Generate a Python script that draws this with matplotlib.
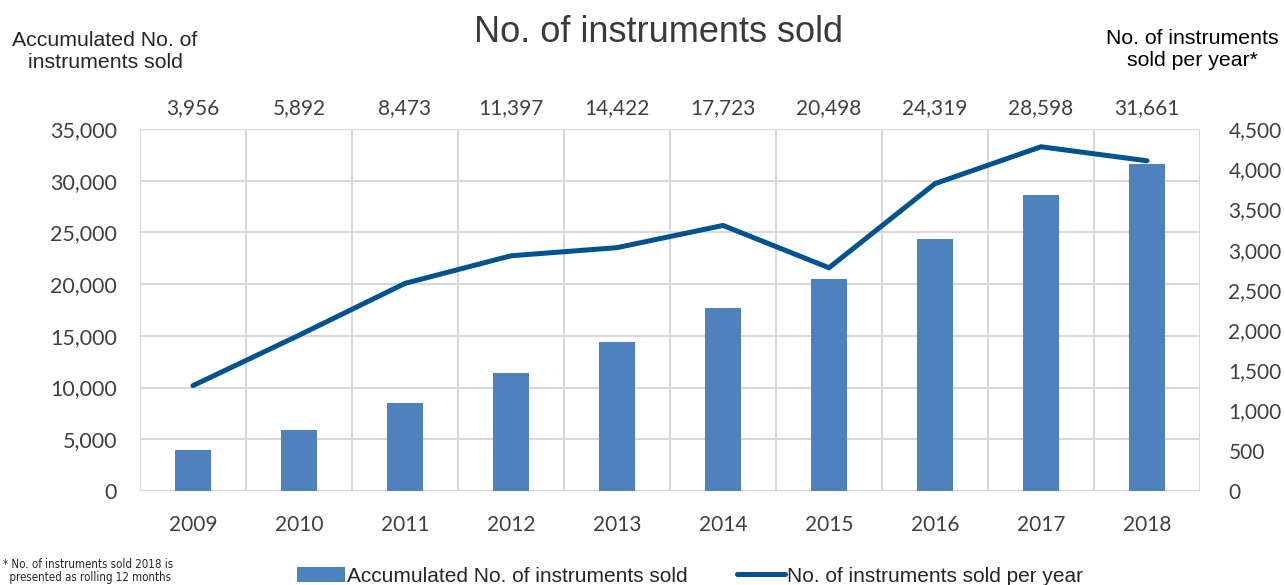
import matplotlib
matplotlib.use("Agg")
import matplotlib.pyplot as plt
import numpy as np
from matplotlib.lines import Line2D
from matplotlib.patches import Patch

years = ["2009", "2010", "2011", "2012", "2013", "2014", "2015", "2016", "2017", "2018"]
accumulated = [3956, 5892, 8473, 11397, 14422, 17723, 20498, 24319, 28598, 31661]
per_year = [1310, 1936, 2581, 2924, 3025, 3301, 2775, 3821, 4279, 4105]
left_ticks = [0, 5000, 10000, 15000, 20000, 25000, 30000, 35000]
right_ticks = [0, 500, 1000, 1500, 2000, 2500, 3000, 3500, 4000, 4500]

bar_color = "#4F81BD"
line_color = "#00538F"
grid_color = "#D9D9D9"
text_color = "#404040"
fs = 15

fig = plt.figure(figsize=(12.85, 5.85), dpi=100)
ax = fig.add_axes([140/1285, 1-491/585, 1060/1285, 362/585])
x = np.arange(len(years))

ax.bar(x, accumulated, width=0.34, color=bar_color, zorder=3)
ax.set_xlim(-0.5, len(years)-0.5)
ax.set_ylim(0, 35000)
ax.set_yticks(left_ticks)
ax.set_yticklabels([f"{v:,}" for v in left_ticks], fontfamily="Lato", fontsize=fs+0.5, color=text_color)
ax.set_xticks(x)
ax.set_xticklabels(years, fontfamily="Lato", fontsize=fs, color=text_color)
ax.set_xticks(np.arange(-0.5, len(years), 1), minor=True)
ax.tick_params(axis="both", which="both", length=0)
ax.tick_params(axis="y", pad=16.5)
ax.tick_params(axis="x", pad=17)
ax.grid(axis="y", which="major", color=grid_color, linewidth=1.5, zorder=0)
ax.grid(axis="x", which="minor", color=grid_color, linewidth=1.5, zorder=0)
for s in ax.spines.values():
    s.set_visible(False)

for xi, v in zip(x, accumulated):
    ax.annotate(f"{v:,}", xy=(xi, 35000), xytext=(0, 8), textcoords="offset points",
                ha="center", va="bottom", fontfamily="Lato", fontsize=fs, color=text_color,
                annotation_clip=False)

ax2 = ax.twinx()
ax2.plot(x, per_year, color=line_color, linewidth=3.6, solid_capstyle="round",
         solid_joinstyle="miter", zorder=4)
ax2.set_ylim(0, 4500)
ax2.set_yticks(right_ticks)
ax2.set_yticklabels([f"{v:,}" for v in right_ticks], fontfamily="Lato", fontsize=fs, color=text_color)
ax2.tick_params(axis="y", length=0, pad=20.5)
for s in ax2.spines.values():
    s.set_visible(False)

fig.text(658/1285, 1-32/585, "No. of instruments sold", ha="center", va="center",
         fontfamily="Liberation Sans", fontsize=26, color="#3a3a3a")
fig.text(105/1285, 1-51/585, "Accumulated No. of\ninstruments sold", ha="center", va="center",
         fontfamily="Liberation Sans", fontsize=15.3, color="#262626", linespacing=1.2)
fig.text(1192/1285, 1-50/585, "No. of instruments\nsold per year*", ha="center", va="center",
         fontfamily="Liberation Sans", fontsize=15.3, color="#000000", linespacing=1.2)
fig.text(3/1285, 1-571/585, "* No. of instruments sold 2018 is\n  presented as rolling 12 months", ha="left", va="center",
         fontfamily="DejaVu Sans", fontstretch="condensed", fontsize=8.3, color="#262626", linespacing=1.1)

handles = [Patch(facecolor=bar_color, edgecolor="none"),
           Line2D([0], [0], color=line_color, linewidth=3.6, solid_capstyle="round")]
labels = ["Accumulated No. of instruments sold", "No. of instruments sold per year"]
leg = fig.legend(handles, labels, loc="center", bbox_to_anchor=(690/1285, 1-576/585), ncol=2,
                 frameon=False, handlelength=2.3, handletextpad=0.1, columnspacing=2.4,
                 prop={"family": "Liberation Sans", "size": 15})
for t in leg.get_texts():
    t.set_color("#262626")

fig.savefig("out.png", dpi=100)
